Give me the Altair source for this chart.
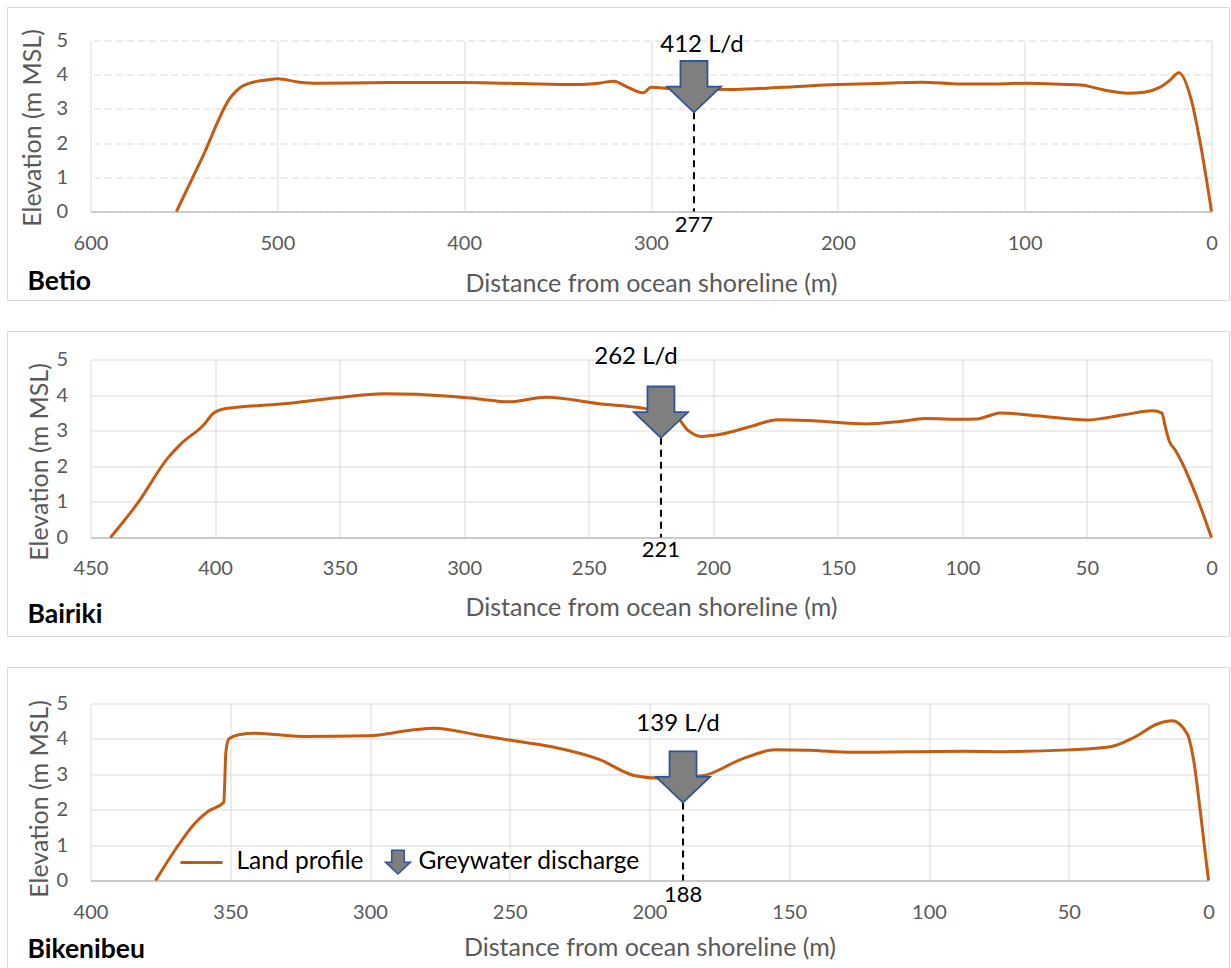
import altair as alt
import pandas as pd

# Land profile transects: distance from ocean shoreline (m) -> elevation (m MSL)
betio_dist = [0, 6, 10.5, 17.5, 22, 28, 36, 45, 58, 70, 85, 100, 115, 135, 155, 175,
              200, 230, 255, 286, 300, 304, 312, 320, 327, 340, 370, 400, 440, 479,
              488, 500, 505, 513, 520, 525, 540, 554]
betio_elev = [0, 2.0, 3.2, 4.06, 3.85, 3.62, 3.49, 3.46, 3.56, 3.7, 3.73, 3.75, 3.73,
              3.73, 3.78, 3.75, 3.71, 3.63, 3.57, 3.58, 3.63, 3.47, 3.62, 3.81, 3.76,
              3.71, 3.74, 3.77, 3.77, 3.75, 3.78, 3.88, 3.85, 3.78, 3.62, 3.34, 1.6, 0]

bairiki_dist = [0, 6, 11.8, 14.5, 17, 18.5, 20, 23.6, 35, 50, 70, 85, 88, 94, 100, 115,
                125, 138.6, 160, 174, 185, 197, 205, 210, 215, 230, 245, 267, 282, 295,
                306, 332, 352, 373.5, 395, 400.5, 404.5, 414, 419, 431, 442]
bairiki_elev = [0, 1.15, 2.1, 2.45, 2.72, 3.1, 3.5, 3.56, 3.45, 3.3, 3.42, 3.5, 3.45,
                3.33, 3.32, 3.34, 3.26, 3.19, 3.28, 3.31, 3.12, 2.9, 2.84, 3.0, 3.4,
                3.65, 3.75, 3.94, 3.81, 3.9, 3.97, 4.04, 3.92, 3.75, 3.63, 3.5, 3.17,
                2.61, 2.23, 0.97, 0]

bikenibeu_dist = [0, 2.9, 5.2, 7.6, 13, 18.3, 26.7, 35, 49.9, 74.3, 88.3, 127.6, 143,
                  155, 167, 181, 195.8, 205.2, 218, 235, 248, 262, 277, 285, 300.5,
                  324.3, 341, 347, 350.5, 351.6, 352, 352.3, 357.6, 362.4, 369.5, 376.7]
bikenibeu_elev = [0, 1.93, 3.34, 4.14, 4.51, 4.42, 4.04, 3.78, 3.69, 3.64, 3.65, 3.62,
                  3.68, 3.69, 3.43, 2.96, 2.89, 2.96, 3.42, 3.78, 3.94, 4.12, 4.3, 4.25,
                  4.09, 4.07, 4.16, 4.12, 4.0, 3.6, 2.7, 2.21, 1.97, 1.64, 0.89, 0]

sites = ["Betio", "Bairiki", "Bikenibeu"]
profiles = [(betio_dist, betio_elev), (bairiki_dist, bairiki_elev),
            (bikenibeu_dist, bikenibeu_elev)]
discharge_dist = [277, 221, 188]      # m from ocean shoreline
discharge_flow = [412, 262, 139]      # L/d
arrow_tip_elev = [2.9, 2.8, 2.2]      # m MSL
x_max = [600, 450, 400]
x_step = [100, 50, 50]

LINE = "#C55A11"
GRID = "#D9D9D9"
FONT = "Lato"
# block arrow pointing down, tip at the anchor point
ARROW = "M0,0 L-1,-0.95 L-0.5,-0.95 L-0.5,-1.9 L0.5,-1.9 L0.5,-0.95 L1,-0.95 Z"

layouts = [
    dict(w=1121, h=171, top=-33, bottom=89, dashed=True, lab_pad=32, xt_y=72,
         yt_x=-58, yt_y=87, name_y=70, fdx=8, fdy=-67, ddy=13),
    dict(w=1121, h=178, top=-28, bottom=99, dashed=False, lab_pad=30.5, xt_y=70,
         yt_x=-51, yt_y=102, name_y=77, fdx=-25, fdy=-81, ddy=12),
    dict(w=1118, h=177, top=-36, bottom=89, dashed=False, lab_pad=32, xt_y=67,
         yt_x=-51, yt_y=95, name_y=69, fdx=-5, fdy=-79, ddy=14),
]
FRAME_L, FRAME_R = -83, 1139


def panel(i):
    lay = layouts[i]
    dist, elev = profiles[i]
    prof = pd.DataFrame({"d": dist, "e": elev})
    event = pd.DataFrame({"d": [discharge_dist[i]], "e": [arrow_tip_elev[i]],
                          "flow": [f"{discharge_flow[i]} L/d"]})
    base_pt = pd.DataFrame({"d": [discharge_dist[i]], "e": [0],
                            "lab": [str(discharge_dist[i])]})
    one = pd.DataFrame({"k": [0]})

    xs = alt.Scale(domain=[0, x_max[i]], reverse=True, nice=False, zero=False)
    ys = alt.Scale(domain=[0, 5], nice=False)
    xax = alt.Axis(values=list(range(0, x_max[i] + 1, x_step[i])),
                   title="Distance from ocean shoreline (m)", grid=True,
                   gridColor=GRID, gridWidth=1, ticks=False, domainColor="#BFBFBF",
                   domainWidth=1.3, labelPadding=lay["lab_pad"], labelBaseline="middle",
                   labelFlush=False, titleY=lay["xt_y"], titleBaseline="middle")
    yax_kw = dict(values=[0, 1, 2, 3, 4, 5], title="Elevation (m MSL)", grid=True,
                  gridColor=GRID, gridWidth=1, domain=False, ticks=False,
                  labelPadding=23, titleX=lay["yt_x"], titleY=lay["yt_y"],
                  titleBaseline="middle")
    if lay["dashed"]:
        yax_kw["gridDash"] = [7, 4]
    yax = alt.Axis(**yax_kw)
    X = alt.X("d:Q", scale=xs, axis=xax)
    Y = alt.Y("e:Q", scale=ys, axis=yax)

    # panel frame: top, left and right edges; bottom edge where it fits the page
    bottom = lay["h"] + lay["bottom"]
    frames = [
        alt.Chart(one).mark_rule(color=GRID, strokeWidth=1).encode(
            x=alt.value(FRAME_L), x2=alt.value(FRAME_R), y=alt.value(lay["top"])),
        alt.Chart(one).mark_rule(color=GRID, strokeWidth=1).encode(
            x=alt.value(FRAME_L), y=alt.value(lay["top"]), y2=alt.value(bottom)),
        alt.Chart(one).mark_rule(color=GRID, strokeWidth=1).encode(
            x=alt.value(FRAME_R), y=alt.value(lay["top"]), y2=alt.value(bottom)),
    ]
    if i < 2:
        frames.append(alt.Chart(one).mark_rule(color=GRID, strokeWidth=1).encode(
            x=alt.value(FRAME_L), x2=alt.value(FRAME_R), y=alt.value(bottom)))

    line = alt.Chart(prof).mark_line(color=LINE, strokeWidth=3, interpolate="monotone").encode(
        x=X, y=Y, order=alt.Order("d:Q", sort="descending"))
    drop = alt.Chart(event).mark_rule(color="black", strokeWidth=2, strokeDash=[7, 5]).encode(
        x=X, y=Y, y2=alt.Y2(datum=0))
    arrow = alt.Chart(event).mark_point(shape=ARROW, size=2916, filled=True, fill="#7F7F7F",
                                        stroke="#2F5597", strokeWidth=1.8, opacity=1).encode(x=X, y=Y)
    flow = alt.Chart(event).mark_text(fontSize=24, font=FONT, color="black", baseline="middle",
                                      dx=lay["fdx"], dy=lay["fdy"]).encode(x=X, y=Y, text="flow:N")
    dlab = alt.Chart(base_pt).mark_text(fontSize=22, font=FONT, color="black", baseline="middle",
                                        dy=lay["ddy"]).encode(x=X, y=Y, text="lab:N")
    name = alt.Chart(one).mark_text(text=sites[i], fontSize=26.5, fontWeight="bold", font=FONT,
                                    color="black", align="left", baseline="middle").encode(
        x=alt.value(-63), y=alt.value(lay["h"] + lay["name_y"]))

    layers = frames + [line, drop, arrow, flow, dlab, name]

    if i == 2:
        legend = [
            alt.Chart(one).mark_rule(color=LINE, strokeWidth=3).encode(
                x=alt.value(90), x2=alt.value(132), y=alt.value(159)),
            alt.Chart(one).mark_text(text="Land profile", fontSize=24.5, font=FONT, color="black",
                                     align="left", baseline="middle").encode(
                x=alt.value(146), y=alt.value(158)),
            alt.Chart(one).mark_point(shape=ARROW, size=625, filled=True, fill="#7F7F7F",
                                      stroke="#2F5597", strokeWidth=1.5, opacity=1).encode(
                x=alt.value(307.5), y=alt.value(170.5)),
            alt.Chart(one).mark_text(text="Greywater discharge", fontSize=24.5, font=FONT,
                                     color="black", align="left", baseline="middle").encode(
                x=alt.value(328), y=alt.value(158)),
        ]
        layers += legend

    return alt.layer(*layers).properties(width=lay["w"], height=lay["h"])


chart = alt.vconcat(panel(0), panel(1), panel(2), spacing=29, bounds="full").properties(
    padding={"left": 6.5, "top": 6.5, "right": 0, "bottom": 0}
).configure_view(stroke="transparent").configure_axis(
    labelFont=FONT, titleFont=FONT, labelColor="#595959", titleColor="#595959",
    labelFontSize=20, titleFontSize=25, titleFontWeight="normal"
)

chart.save("out.html", embed_options={"renderer": "svg", "actions": False})
